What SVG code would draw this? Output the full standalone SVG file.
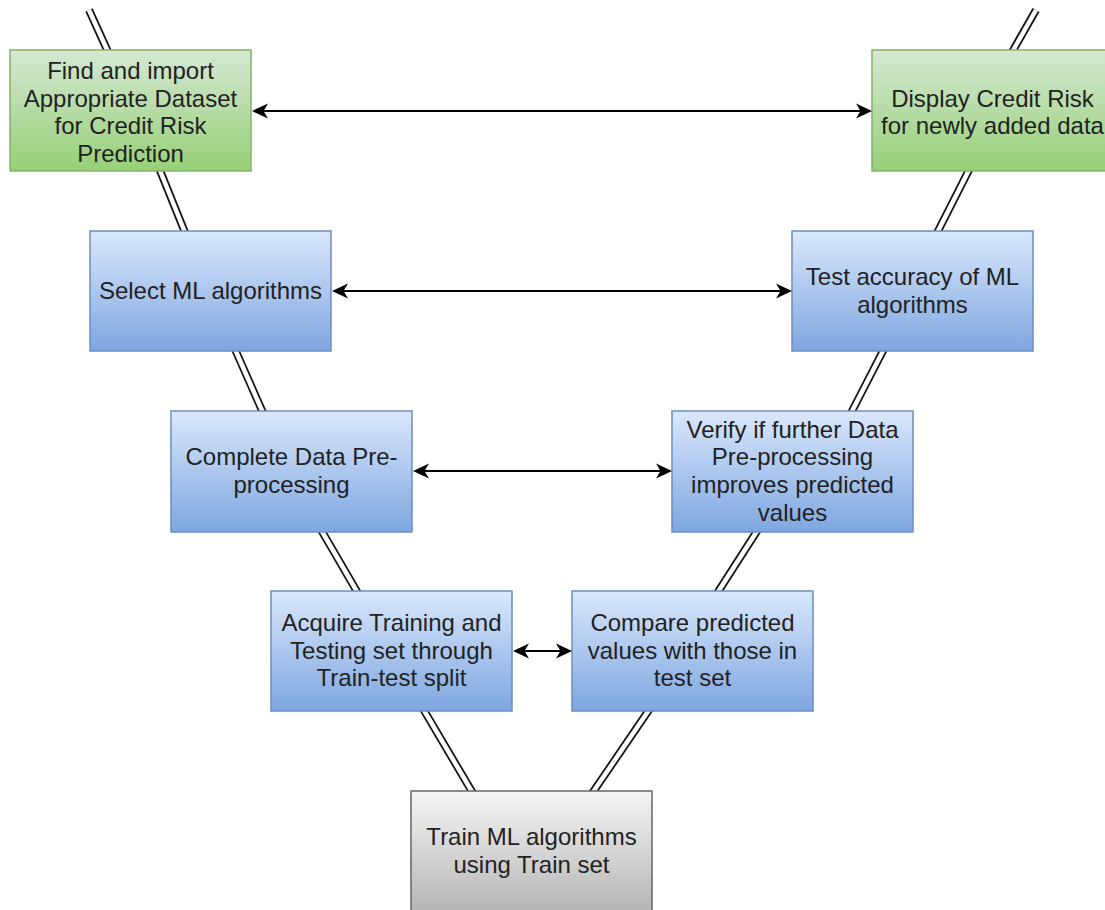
<svg xmlns="http://www.w3.org/2000/svg" width="1105" height="910" viewBox="0 0 1105 910">
  <defs>
    <linearGradient id="gGreen" x1="0" y1="0" x2="0" y2="1">
      <stop offset="0" stop-color="#d5e8d4"/>
      <stop offset="1" stop-color="#97d077"/>
    </linearGradient>
    <linearGradient id="gBlue" x1="0" y1="0" x2="0" y2="1">
      <stop offset="0" stop-color="#dae8fc"/>
      <stop offset="1" stop-color="#7ea6e0"/>
    </linearGradient>
    <linearGradient id="gGray" x1="0" y1="0" x2="0" y2="1">
      <stop offset="0" stop-color="#f5f5f5"/>
      <stop offset="1" stop-color="#b3b3b3"/>
    </linearGradient>
    <marker id="arrow" viewBox="0 0 16 16" refX="12" refY="8" markerWidth="16" markerHeight="16" markerUnits="userSpaceOnUse" orient="auto-start-reverse">
      <path d="M0,0.5 L16,8 L0,15.5 L4.5,8 Z" fill="#000"/>
    </marker>
  </defs>
  <style>
    .green { fill: url(#gGreen); stroke: #82b366; stroke-width: 1.5; }
    .blue { fill: url(#gBlue); stroke: #6c8ebf; stroke-width: 1.5; }
    .gray { fill: url(#gGray); stroke: #666666; stroke-width: 1.5; }
    .label { font-family: "Liberation Sans", Arial, Helvetica, sans-serif; font-size: 24px; fill: #222; text-anchor: middle; }
    .linkOuter { stroke: #111; stroke-width: 8; fill: none; }
    .linkInner { stroke: #fff; stroke-width: 4.5; fill: none; }
    .flow { stroke: #000; stroke-width: 2; fill: none; marker-start: url(#arrow); marker-end: url(#arrow); }
  </style>
  <rect width="1105" height="910" fill="#ffffff"/>

  <!-- connectors: double "link" lines down the V, two-way arrows across it -->
  <g id="connectors">
    <g id="links">
      <path class="linkOuter" d="M89,10 L109,54"/>
      <path class="linkInner" d="M89,10 L109,54"/>
      <path class="linkOuter" d="M159,168 L186,235"/>
      <path class="linkInner" d="M159,168 L186,235"/>
      <path class="linkOuter" d="M234,347 L264,415"/>
      <path class="linkInner" d="M234,347 L264,415"/>
      <path class="linkOuter" d="M320,528 L359,595"/>
      <path class="linkInner" d="M320,528 L359,595"/>
      <path class="linkOuter" d="M422,707 L474,795"/>
      <path class="linkInner" d="M422,707 L474,795"/>
      <path class="linkOuter" d="M591,795 L651,707"/>
      <path class="linkInner" d="M591,795 L651,707"/>
      <path class="linkOuter" d="M716,595 L759,528"/>
      <path class="linkInner" d="M716,595 L759,528"/>
      <path class="linkOuter" d="M850,415 L885,347"/>
      <path class="linkInner" d="M850,415 L885,347"/>
      <path class="linkOuter" d="M936,235 L970,168"/>
      <path class="linkInner" d="M936,235 L970,168"/>
      <path class="linkOuter" d="M1011,54 L1036,10"/>
      <path class="linkInner" d="M1011,54 L1036,10"/>
    </g>
  </g>

  <g id="n-find-dataset">
    <rect class="green" x="10" y="50" width="241" height="121"/>
    <text class="label" x="130.5" y="79">Find and import</text>
    <text class="label" x="130.5" y="106.7">Appropriate Dataset</text>
    <text class="label" x="130.5" y="134.4">for Credit Risk</text>
    <text class="label" x="130.5" y="162.1">Prediction</text>
  </g>

  <g id="n-display-risk">
    <rect class="green" x="872" y="50" width="241" height="121"/>
    <text class="label" x="992.5" y="106.7">Display Credit Risk</text>
    <text class="label" x="992.5" y="134.4">for newly added data</text>
  </g>

  <g id="n-select-ml">
    <rect class="blue" x="90" y="231" width="241" height="120"/>
    <text class="label" x="210.5" y="299">Select ML algorithms</text>
  </g>

  <g id="n-test-accuracy">
    <rect class="blue" x="792" y="231" width="241" height="120"/>
    <text class="label" x="912.5" y="285">Test accuracy of ML</text>
    <text class="label" x="912.5" y="312.7">algorithms</text>
  </g>

  <g id="n-preprocessing">
    <rect class="blue" x="171" y="411" width="241" height="121"/>
    <text class="label" x="291.5" y="465">Complete Data Pre-</text>
    <text class="label" x="291.5" y="492.7">processing</text>
  </g>

  <g id="n-verify">
    <rect class="blue" x="672" y="411" width="241" height="121"/>
    <text class="label" x="792.5" y="437.5">Verify if further Data</text>
    <text class="label" x="792.5" y="465.2">Pre-processing</text>
    <text class="label" x="792.5" y="492.9">improves predicted</text>
    <text class="label" x="792.5" y="520.6">values</text>
  </g>

  <g id="n-train-test-split">
    <rect class="blue" x="271" y="591" width="241" height="120"/>
    <text class="label" x="391.5" y="631">Acquire Training and</text>
    <text class="label" x="391.5" y="658.7">Testing set through</text>
    <text class="label" x="391.5" y="686.4">Train-test split</text>
  </g>

  <g id="n-compare">
    <rect class="blue" x="572" y="591" width="241" height="120"/>
    <text class="label" x="692.5" y="631">Compare predicted</text>
    <text class="label" x="692.5" y="658.7">values with those in</text>
    <text class="label" x="692.5" y="686.4">test set</text>
  </g>

  <g id="n-train-ml">
    <rect class="gray" x="411" y="791" width="241" height="125"/>
    <text class="label" x="531.5" y="845">Train ML algorithms</text>
    <text class="label" x="531.5" y="872.7">using Train set</text>
  </g>

  <g id="flows">
    <line class="flow" x1="256" y1="111" x2="868" y2="111"/>
    <line class="flow" x1="336" y1="291" x2="788" y2="291"/>
    <line class="flow" x1="417" y1="471" x2="668" y2="471"/>
    <line class="flow" x1="517" y1="651" x2="568" y2="651"/>
  </g>
</svg>
